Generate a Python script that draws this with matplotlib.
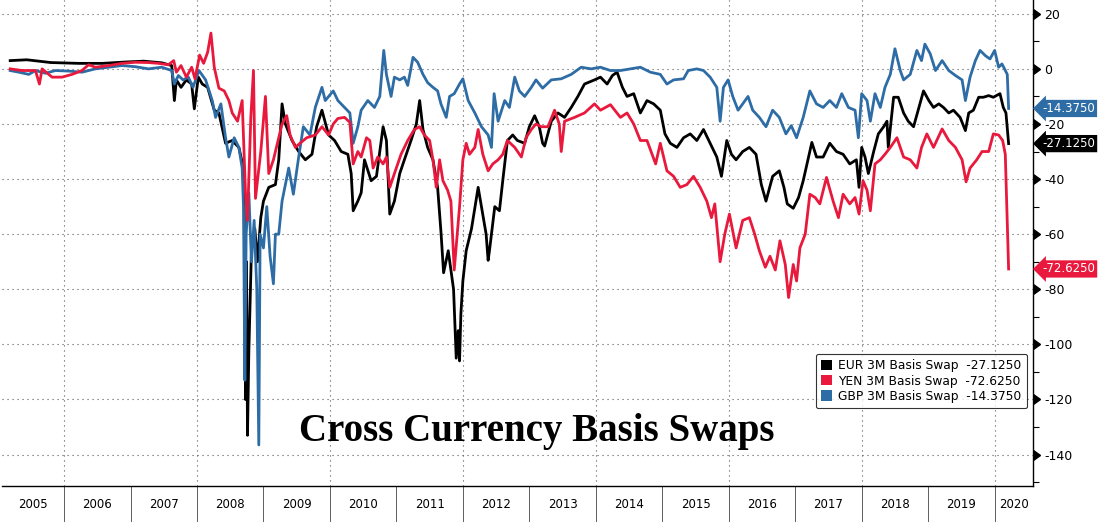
import matplotlib
matplotlib.use("Agg")
import matplotlib.pyplot as plt
from matplotlib.patches import Patch
from matplotlib.ticker import MultipleLocator, FixedLocator, FixedFormatter, NullFormatter
import matplotlib.transforms as mtransforms

# ---------------- data (decimal year, basis points) ----------------
eur_dates = [2005.19, 2005.44, 2005.8, 2006.22, 2006.58, 2006.93, 2007.2, 2007.47, 2007.62, 2007.66,
             2007.69, 2007.76, 2007.84, 2007.92, 2007.96, 2008.02, 2008.08, 2008.16, 2008.26, 2008.33,
             2008.43, 2008.53, 2008.63, 2008.69, 2008.71, 2008.73, 2008.745, 2008.76, 2008.78, 2008.82,
             2008.87, 2008.91, 2008.96, 2009.0, 2009.08, 2009.18, 2009.23, 2009.28, 2009.33, 2009.43,
             2009.53, 2009.63, 2009.73, 2009.80, 2009.88, 2009.98, 2010.07, 2010.17, 2010.27, 2010.32,
             2010.35, 2010.42, 2010.47, 2010.52, 2010.62, 2010.70, 2010.80, 2010.85, 2010.90, 2010.97,
             2011.05, 2011.12, 2011.22, 2011.30, 2011.35, 2011.40, 2011.47, 2011.55, 2011.62, 2011.67,
             2011.71, 2011.78, 2011.86, 2011.90, 2011.93, 2011.95, 2011.97, 2012.00, 2012.05, 2012.13,
             2012.23, 2012.28, 2012.35, 2012.38, 2012.40, 2012.48, 2012.55, 2012.60, 2012.67, 2012.75,
             2012.82, 2012.93, 2013.0, 2013.08, 2013.15, 2013.20, 2013.23, 2013.33, 2013.43, 2013.53,
             2013.63, 2013.73, 2013.83, 2013.98, 2014.07, 2014.17, 2014.25, 2014.32, 2014.40, 2014.47,
             2014.57, 2014.67, 2014.77, 2014.87, 2014.97, 2015.04, 2015.12, 2015.22, 2015.32, 2015.42,
             2015.52, 2015.62, 2015.72, 2015.82, 2015.89, 2015.97, 2016.04, 2016.11, 2016.21, 2016.31,
             2016.41, 2016.49, 2016.56, 2016.66, 2016.76, 2016.83, 2016.88, 2016.97, 2017.05, 2017.12,
             2017.20, 2017.25, 2017.32, 2017.42, 2017.52, 2017.62, 2017.72, 2017.82, 2017.92, 2017.96,
             2018.0, 2018.05, 2018.10, 2018.18, 2018.25, 2018.33, 2018.38, 2018.40, 2018.48, 2018.55,
             2018.63, 2018.70, 2018.78, 2018.85, 2018.93, 2019.01, 2019.08, 2019.16, 2019.23, 2019.31,
             2019.38, 2019.48, 2019.56, 2019.61, 2019.68, 2019.76, 2019.83, 2019.91, 2019.98, 2020.08,
             2020.13, 2020.17, 2020.21]
eur_values = [3, 3.3, 2.3, 2, 2, 2.5, 2.8, 2.2, 1.2, -11.5,
              -4, -6.7, -4, -5.5, -14.5, -3, -5.5, -6.7, -15, -16,
              -27, -26, -28.5, -35, -48, -120, -70, -133, -103, -65,
              -58, -70, -54, -48, -43, -42, -33, -12.7, -20, -26,
              -30, -33, -31, -21, -15, -24, -26, -30, -31, -38,
              -51.5, -48, -45, -33, -40.6, -39, -21, -26, -52.7, -48,
              -38, -33, -26, -20, -11.5, -22, -28.5, -33, -43, -59,
              -74, -66, -80, -105, -95, -106, -89, -77, -66, -58,
              -43, -50, -60, -69.5, -66, -50, -51.5, -40.6, -26, -24,
              -26, -27, -21, -17, -21, -27, -28, -19, -16, -17.6,
              -14, -10, -5.5, -4, -3, -5.5, -2.4, -1.2, -6.7, -10,
              -9, -16, -11.5, -12.7, -15, -23.6, -27, -28.5, -25, -23.6,
              -26, -22, -27, -32, -39, -26, -31, -33, -30, -28.5,
              -31, -42, -48, -39, -37, -43, -49, -50.6, -46.7, -40.6,
              -32, -26.7, -32, -32, -27, -30, -31, -34.5, -33, -43,
              -28.5, -32, -38, -30, -23.6, -21, -19, -28.5, -10.3, -10.3,
              -16, -19, -21, -15, -8, -11.5, -14, -12.7, -14, -16,
              -15, -17.6, -22.4, -16, -15, -10.3, -10.3, -9.7, -10.3, -9,
              -14, -16, -27.125]

yen_dates = [2005.19, 2005.37, 2005.57, 2005.63, 2005.67, 2005.82, 2005.97, 2006.12, 2006.27, 2006.37,
             2006.47, 2006.67, 2006.87, 2007.07, 2007.27, 2007.42, 2007.57, 2007.65, 2007.69, 2007.76,
             2007.84, 2007.92, 2007.97, 2008.04, 2008.10, 2008.16, 2008.21, 2008.26, 2008.33, 2008.41,
             2008.48, 2008.53, 2008.61, 2008.68, 2008.73, 2008.76, 2008.81, 2008.85, 2008.88, 2008.96,
             2009.03, 2009.08, 2009.15, 2009.23, 2009.28, 2009.35, 2009.40, 2009.48, 2009.55, 2009.65,
             2009.78, 2009.88, 2009.98, 2010.05, 2010.12, 2010.22, 2010.30, 2010.35, 2010.42, 2010.47,
             2010.55, 2010.60, 2010.65, 2010.72, 2010.80, 2010.85, 2010.90, 2010.97, 2011.07, 2011.17,
             2011.27, 2011.35, 2011.42, 2011.50, 2011.55, 2011.60, 2011.65, 2011.70, 2011.77, 2011.82,
             2011.87, 2011.95, 2012.0, 2012.05, 2012.10, 2012.18, 2012.23, 2012.30, 2012.38, 2012.45,
             2012.53, 2012.60, 2012.67, 2012.78, 2012.88, 2012.95, 2013.03, 2013.10, 2013.18, 2013.28,
             2013.38, 2013.45, 2013.48, 2013.53, 2013.68, 2013.83, 2013.98, 2014.07, 2014.22, 2014.37,
             2014.47, 2014.57, 2014.67, 2014.77, 2014.90, 2014.97, 2015.07, 2015.17, 2015.27, 2015.37,
             2015.47, 2015.57, 2015.67, 2015.74, 2015.79, 2015.87, 2015.94, 2016.01, 2016.11, 2016.21,
             2016.31, 2016.39, 2016.46, 2016.55, 2016.62, 2016.70, 2016.77, 2016.85, 2016.90, 2016.97,
             2017.02, 2017.07, 2017.15, 2017.22, 2017.30, 2017.37, 2017.47, 2017.57, 2017.65, 2017.72,
             2017.82, 2017.90, 2017.96, 2018.02, 2018.08, 2018.13, 2018.20, 2018.28, 2018.35, 2018.43,
             2018.53, 2018.63, 2018.73, 2018.83, 2018.90, 2018.98, 2019.08, 2019.21, 2019.31, 2019.41,
             2019.51, 2019.57, 2019.63, 2019.73, 2019.81, 2019.91, 2019.98, 2020.06, 2020.12, 2020.16,
             2020.18, 2020.21]
yen_values = [0, -0.6, -0.6, -5.5, 0, -3, -3, -2, -0.6, 1.5,
              0.6, 1.2, 2, 2.4, 2.3, 2, 1.5, 3, -1.2, 1.2,
              -3, 0.6, -3.6, 5, 2, 6, 13, 0.6, -7, -8,
              -11.5, -16, -19, -11.5, -45, -55, -17.6, -0.6, -47, -30,
              -10, -38, -33, -25, -20, -17, -24, -28.5, -27, -25,
              -24, -21, -24, -20, -18, -17.6, -19.4, -34.5, -30, -32,
              -25, -26, -36, -32, -34.5, -32, -43, -38, -31, -26,
              -22, -21, -24, -26, -33, -43, -33, -40.6, -44, -48,
              -73, -50, -33, -27, -31, -28.5, -22, -31, -37, -34.5,
              -33, -31, -26, -28.5, -32, -25, -22, -20, -21, -21,
              -15, -20, -30, -19, -17.6, -16, -12.7, -15, -13, -17.6,
              -16, -20, -26, -26, -34.5, -27, -37, -39, -43, -42,
              -39, -43, -48, -54, -49, -70, -60, -52.7, -65, -55,
              -54, -60, -66, -72, -68, -73, -62.4, -71, -83, -71,
              -77, -65, -60, -45.5, -46.7, -49, -39.4, -48, -54, -45.5,
              -49, -46.7, -52.7, -40.6, -44, -51.5, -34.5, -33, -31, -28.5,
              -25, -32, -33, -36, -28.5, -23.6, -28.5, -21.8, -26, -28.5,
              -33, -41, -36, -33, -30, -30, -23.6, -24, -26, -31,
              -48, -72.625]

gbp_dates = [2005.19, 2005.32, 2005.47, 2005.57, 2005.72, 2005.87, 2006.07, 2006.27, 2006.47, 2006.67,
             2006.87, 2007.07, 2007.27, 2007.47, 2007.62, 2007.66, 2007.72, 2007.79, 2007.87, 2007.94,
             2008.03, 2008.13, 2008.23, 2008.28, 2008.36, 2008.43, 2008.48, 2008.56, 2008.63, 2008.68,
             2008.70, 2008.72, 2008.74, 2008.78, 2008.82, 2008.86, 2008.90, 2008.93, 2008.95, 2009.0,
             2009.05, 2009.10, 2009.15, 2009.18, 2009.23, 2009.28, 2009.38, 2009.45, 2009.53, 2009.60,
             2009.70, 2009.78, 2009.88, 2009.93, 2010.05, 2010.12, 2010.22, 2010.30, 2010.35, 2010.42,
             2010.47, 2010.57, 2010.67, 2010.75, 2010.81, 2010.85, 2010.92, 2010.97, 2011.05, 2011.12,
             2011.17, 2011.25, 2011.32, 2011.40, 2011.47, 2011.55, 2011.62, 2011.67, 2011.75, 2011.80,
             2011.87, 2011.95, 2012.0, 2012.08, 2012.18, 2012.28, 2012.38, 2012.43, 2012.47, 2012.53,
             2012.63, 2012.70, 2012.78, 2012.85, 2012.93, 2013.03, 2013.10, 2013.20, 2013.33, 2013.48,
             2013.63, 2013.78, 2013.93, 2014.07, 2014.22, 2014.37, 2014.52, 2014.67, 2014.82, 2014.97,
             2015.07, 2015.17, 2015.32, 2015.39, 2015.52, 2015.62, 2015.72, 2015.82, 2015.87, 2015.92,
             2015.99, 2016.06, 2016.14, 2016.21, 2016.29, 2016.36, 2016.46, 2016.56, 2016.66, 2016.76,
             2016.86, 2016.94, 2017.02, 2017.12, 2017.22, 2017.32, 2017.42, 2017.52, 2017.62, 2017.70,
             2017.80, 2017.90, 2017.95, 2018.0, 2018.08, 2018.13, 2018.20, 2018.28, 2018.35, 2018.43,
             2018.50, 2018.58, 2018.63, 2018.73, 2018.83, 2018.90, 2018.95, 2019.03, 2019.11, 2019.21,
             2019.31, 2019.41, 2019.51, 2019.56, 2019.63, 2019.71, 2019.78, 2019.86, 2019.93, 2020.0,
             2020.06, 2020.11, 2020.16, 2020.19, 2020.21]
gbp_values = [-0.6, -1.2, -2, -0.6, -1.6, -0.6, -0.8, -1.2, 0, 0.6,
              1.2, 0.8, 0, 0.6, -0.6, -5.5, -2.4, -4, -3, -6.7,
              -0.6, -4, -11.5, -17.6, -12.7, -25, -32, -25, -28.5, -36,
              -50, -113, -60, -45, -70, -55, -80, -136.5, -60, -65,
              -50, -68, -78, -60, -60, -48, -36, -45.5, -32, -21,
              -24, -14, -6.7, -11.5, -8, -11.5, -14, -16, -27, -21,
              -15, -11.5, -14, -10, 6.7, -2, -10, -3, -4, -3,
              -6, 4.2, 2.4, -2, -5, -6.7, -8, -12.7, -17.6, -10,
              -9, -5.5, -3.6, -11.5, -16, -21, -24, -28.5, -9, -19,
              -11.5, -14, -3, -8, -10, -6.7, -4, -7, -4, -3.6,
              -2, 0.6, 0, 0.6, -0.6, -0.6, 0, 0.6, -1.2, -2,
              -5.5, -4, -3.6, -0.6, 0, -0.6, -3, -6.7, -19, -6.7,
              -4, -10, -15, -12.7, -10, -15, -17.6, -21, -15, -17.6,
              -23.6, -20.6, -25, -17.6, -8, -12.7, -14, -11.5, -14, -9,
              -14, -15, -25, -9, -11.5, -19, -9, -14, -6.7, -2,
              7.3, -0.6, -4, -2, 6.7, 3, 9, 5.5, -0.6, 3,
              -0.6, -2.4, -4, -11.5, -3, 3, 6.7, 4.8, 3.6, 6.7,
              0.6, 1.8, -0.6, -2, -14.375]

series_names = ["EUR 3M Basis Swap", "YEN 3M Basis Swap", "GBP 3M Basis Swap"]
year_labels = [str(y) for y in range(2005, 2021)]

# ---------------- styling ----------------
C_EUR = "#000000"
C_YEN = "#e8193c"
C_GBP = "#2e6ca5"

x_start, x_end = 2005.07, 2020.58
y_bottom, y_top = -151.4, 25.0

fig = plt.figure(figsize=(11.04, 5.22), dpi=100)
ax = fig.add_axes([0.002, 36 / 522, 1031 / 1104, 486 / 522])

ax.plot(eur_dates, eur_values, color=C_EUR, lw=2.0, zorder=3)
ax.plot(gbp_dates, gbp_values, color=C_GBP, lw=2.0, zorder=4)
ax.plot(yen_dates, yen_values, color=C_YEN, lw=2.0, zorder=5)

ax.set_xlim(x_start, x_end)
ax.set_ylim(y_bottom, y_top)

for s in ("left", "top"):
    ax.spines[s].set_visible(False)
for s in ("right", "bottom"):
    ax.spines[s].set_color("black")
    ax.spines[s].set_linewidth(1.0)

# grid
grid_style = dict(color="#555555", lw=0.8, linestyle=(0, (1, 3.5)))
for yr in range(2006, 2021, 2):
    ax.axvline(yr, zorder=1, **grid_style)
ax.yaxis.set_major_locator(MultipleLocator(20))
ax.yaxis.set_minor_locator(MultipleLocator(10))
ax.yaxis.grid(True, which="major", zorder=1, **grid_style)

# x axis: separators at year boundaries, labels centred in each year
ax.xaxis.set_major_locator(FixedLocator(list(range(2006, 2021))))
ax.xaxis.set_major_formatter(NullFormatter())
label_pos = [(x_start + 2006) / 2] + [y + 0.5 for y in range(2006, 2020)] + [(2020 + x_end) / 2]
ax.xaxis.set_minor_locator(FixedLocator(label_pos))
ax.xaxis.set_minor_formatter(FixedFormatter(year_labels))
ax.tick_params(axis="x", which="major", length=26, width=0.6, color="#444444", direction="out")
ax.tick_params(axis="x", which="minor", length=0, pad=9, labelsize=8.5)

# y axis on the right
ax.yaxis.tick_right()
ax.yaxis.set_label_position("right")
ax.yaxis.set_major_formatter(matplotlib.ticker.FuncFormatter(lambda v, p: f"{v:g}"))
ax.tick_params(axis="y", which="major", length=0, pad=8, labelsize=9)
ax.tick_params(axis="y", which="minor", length=4, width=0.8, direction="out")

trans = mtransforms.blended_transform_factory(ax.transAxes, ax.transData)
yt = [t for t in ax.get_yticks() if y_bottom <= t <= y_top]
ax.plot([1.0] * len(yt), yt, linestyle="none", marker=9, markersize=7, color="black",
        transform=trans, clip_on=False, zorder=6)

# last value tags
off = mtransforms.offset_copy(trans, fig=fig, x=9, y=0, units="dots")
for vals, col in ((gbp_values, C_GBP), (eur_values, C_EUR), (yen_values, C_YEN)):
    ax.text(1.0, vals[-1], f"{vals[-1]:.4f}", transform=off, ha="left", va="center",
            color="white", fontsize=8.5,
            bbox=dict(boxstyle="larrow,pad=0.18", fc=col, ec="none"), clip_on=False, zorder=7)

# legend
handles = [Patch(facecolor=c, edgecolor="none") for c in (C_EUR, C_YEN, C_GBP)]
labels = [f"{n}  {v[-1]:.4f}" for n, v in zip(series_names, (eur_values, yen_values, gbp_values))]
leg = ax.legend(handles, labels, loc="lower left", bbox_to_anchor=(0.789, 0.160),
                fontsize=8.8, frameon=True, fancybox=True, edgecolor="black",
                handlelength=0.9, handleheight=0.9, handletextpad=0.5, labelspacing=0.18,
                borderpad=0.45, borderaxespad=0)
leg.get_frame().set_linewidth(0.8)
leg.set_zorder(8)

fig.text(537 / 1104, 1 - 432 / 522, "Cross Currency Basis Swaps", ha="center", va="center",
         fontsize=28, fontweight="bold", family=["Liberation Serif", "DejaVu Serif"])

fig.savefig("out.png", dpi=100, facecolor="white")
